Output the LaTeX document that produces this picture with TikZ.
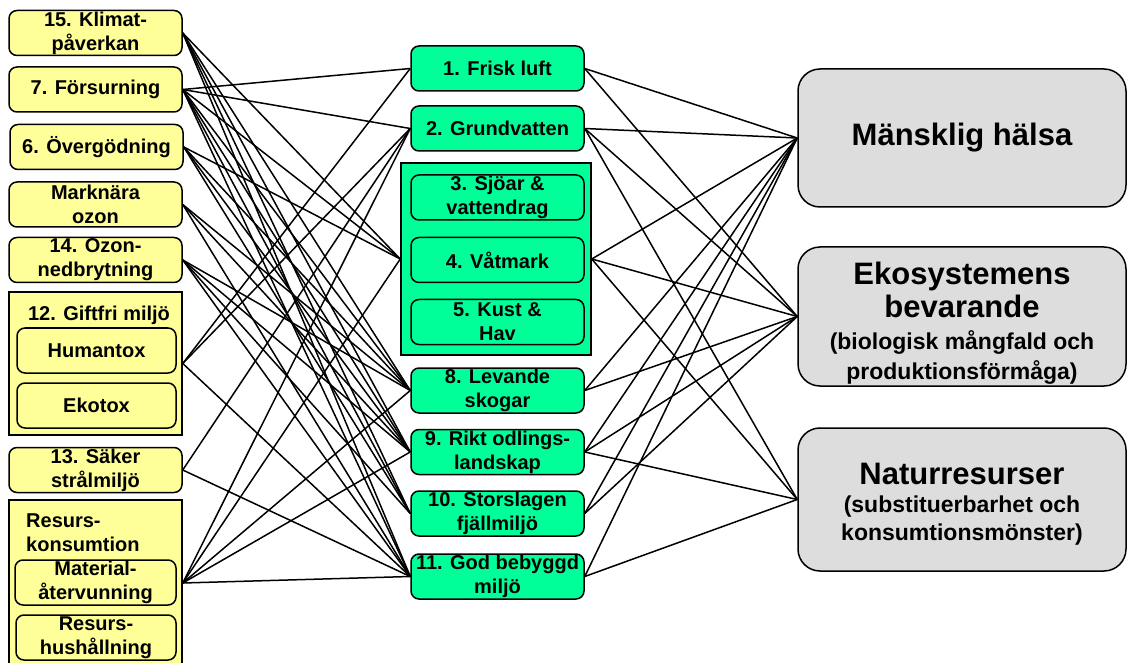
\documentclass[tikz,border=0pt]{standalone}
\usepackage{fontspec}
\setmainfont{Liberation Sans}

\definecolor{gul}{HTML}{FFFF99}
\definecolor{gron}{HTML}{00FF99}
\definecolor{gra}{HTML}{DDDDDD}
\newcommand{\undertext}{\fontsize{23}{28}\selectfont}

\begin{document}
\begin{tikzpicture}[x=1pt, y=-1pt,
	every node/.style={font=\bfseries\fontsize{20}{24}\selectfont, align=center, inner sep=0pt},
	malbox/.style={draw, line width=1.5pt, rounded corners=8pt, minimum width=173pt, minimum height=45pt},
	gulbox/.style={malbox, fill=gul},
	gronbox/.style={malbox, fill=gron},
	ram/.style={draw, line width=1.5pt},
	skydd/.style={draw, line width=1.5pt, fill=gra, rounded corners=22pt, minimum width=328pt, font=\bfseries\fontsize{31}{33}\selectfont},
	lnk/.style={line width=1.5pt}]
	\useasboundingbox (0,0) rectangle (1128,663);
	% left column
	\node[gulbox] (k15) at (95.5,33) {15. Klimat-\\påverkan};
	\node[gulbox] (f7) at (95.5,89.5) {7. Försurning};
	\node[gulbox] (o6) at (96.5,147) {6. Övergödning};
	\node[gulbox] (mo) at (95.5,204.5) {Marknära\\ozon};
	\node[gulbox] (o14) at (95.5,260) {14. Ozon-\\nedbrytning};
	\node[ram, fill=gul, minimum width=173pt, minimum height=143pt] (gift) at (95.5,363.5) {};
	\node[anchor=base] (gifttitel) at (99,320) {12. Giftfri miljö};
	\node[gulbox, minimum width=159pt] (human) at (96.5,350.5) {Humantox};
	\node[gulbox, minimum width=159pt] (eko) at (96.5,405.5) {Ekotox};
	\node[gulbox] (s13) at (95.5,470) {13. Säker\\strålmiljö};
	\node[ram, fill=gul, minimum width=173pt, minimum height=166pt] (resurs) at (95.5,583) {};
	\node[anchor=north west, align=left] (resurstitel) at (26,513.5) {Resurs-\\konsumtion};
	\node[gulbox, minimum width=161pt] (material) at (95.5,582.5) {Material-\\återvunning};
	\node[gulbox, minimum width=160pt] (hushall) at (96,637.5) {Resurs-\\hushållning};
	% middle column
	\node[gronbox] (m1) at (497.5,68.5) {1. Frisk luft};
	\node[gronbox] (m2) at (497.5,128.5) {2. Grundvatten};
	\node[ram, fill=gron, minimum width=190pt, minimum height=192pt] (vatten) at (496,259) {};
	\node[gronbox] (m3) at (497.5,197.5) {3. Sjöar \&\\vattendrag};
	\node[gronbox] (m4) at (497.5,260) {4. Våtmark};
	\node[gronbox] (m5) at (497.5,322) {5. Kust \&\\Hav};
	\node[gronbox] (m8) at (497.5,390.5) {8. Levande\\skogar};
	\node[gronbox] (m9) at (497.5,452) {9. Rikt odlings-\\landskap};
	\node[gronbox] (m10) at (497.5,513.5) {10. Storslagen\\fjällmiljö};
	\node[gronbox] (m11) at (497.5,576.5) {11. God bebyggd\\miljö};
	% right column
	\node[skydd, minimum height=138pt] (halsa) at (962,138) {Mänsklig hälsa};
	\node[skydd, minimum height=139pt] (ekosys) at (962,316.5) {};
	\node[anchor=base, font=\bfseries\fontsize{31}{33}\selectfont] (ekotext) at (962,379) {Ekosystemens\\bevarande\\[-1pt]\undertext (biologisk mångfald och\\[-3pt]\undertext produktionsförmåga)};
	\node[skydd, minimum height=143pt] (natur) at (962,499.5) {};
	\node[anchor=base, font=\bfseries\fontsize{31}{33}\selectfont] (naturtext) at (962,540) {Naturresurser\\[-5pt]\undertext (substituerbarhet och\\[-5pt]\undertext konsumtionsmönster)};
	% connections
	\foreach \a/\b in {k15/vatten, k15/m8, k15/m9, k15/m10, k15/m11,
		f7/m1, f7/m2, f7/vatten, f7/m8, f7/m9, f7/m10, f7/m11,
		o6/vatten, o6/m8, o6/m9, o6/m10,
		mo/m8, mo/m9, mo/m11,
		o14/m8, o14/m9, o14/m10, o14/m11,
		gift/m1, gift/m2, gift/m11,
		s13/m2, s13/m11,
		resurs/m2, resurs/vatten, resurs/m8, resurs/m9, resurs/m11}
		\draw[lnk] (\a.east) -- (\b.west);
	\foreach \a/\b in {m1/halsa, m1/ekosys, m2/halsa, m2/ekosys, m2/natur,
		vatten/halsa, vatten/ekosys, vatten/natur, m8/halsa, m8/ekosys,
		m9/halsa, m9/ekosys, m9/natur, m10/halsa, m10/ekosys, m11/halsa, m11/natur}
		\draw[lnk] (\a.east) -- (\b.west);
\end{tikzpicture}
\end{document}
